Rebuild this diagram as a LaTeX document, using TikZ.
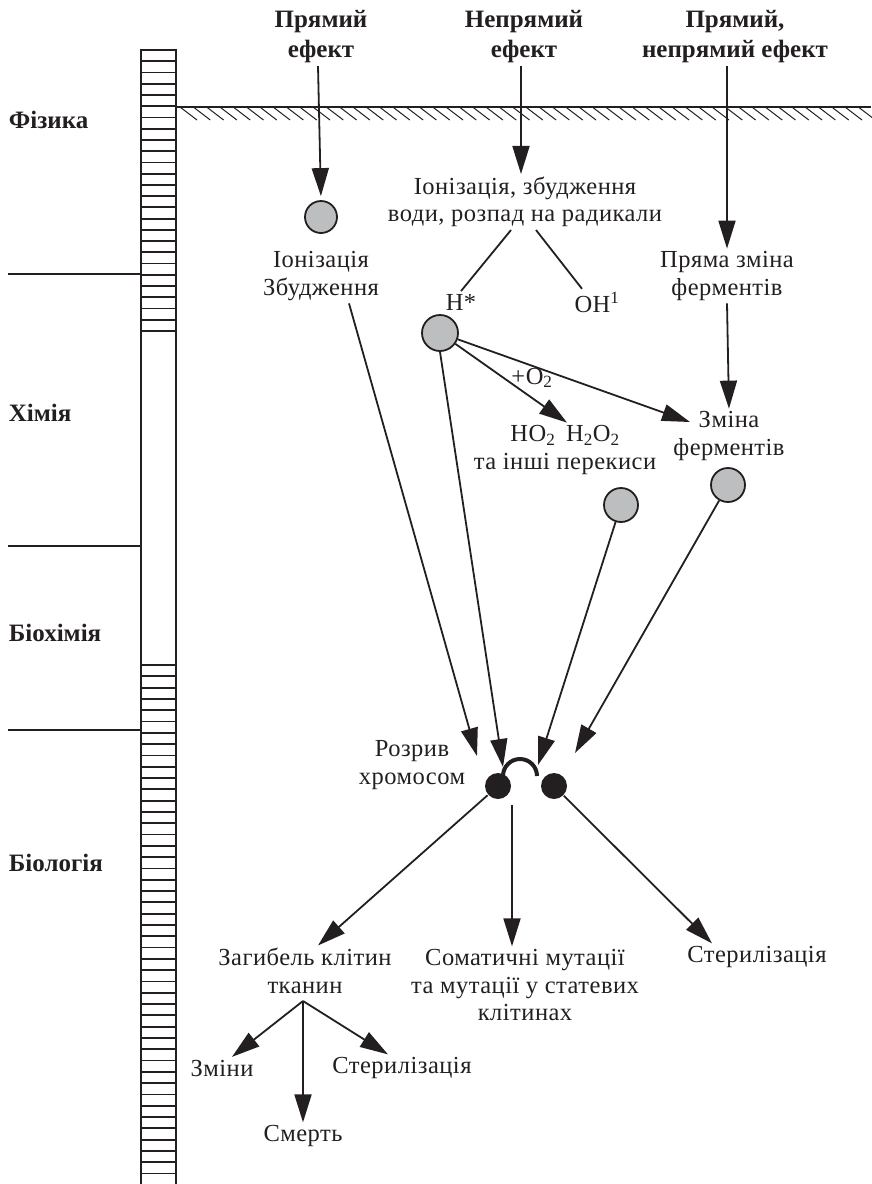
\documentclass[tikz,border=0pt]{standalone}
\usepackage{fontspec}
\setmainfont{Liberation Serif}
\newfontfamily\wide{Liberation Serif}[LetterSpace=2]
\usetikzlibrary{arrows.meta}
\definecolor{ink}{RGB}{35,31,32}
\definecolor{ballgray}{RGB}{188,190,192}

\begin{document}
\begin{tikzpicture}[x=1pt, y=-1pt, ink, line width=1.8pt,
  arr/.style={-{Triangle[length=28pt,width=17pt]}, line width=1.8pt},
  ball/.style={circle, draw, fill=ballgray, line width=1.8pt, minimum size=32pt, inner sep=0pt},
  chrom/.style={circle, fill=ink, minimum size=26pt, inner sep=0pt},
  lbl/.style={align=center, font=\wide\fontsize{24.5}{27.5}\selectfont, inner sep=2pt},
  hdr/.style={align=center, font=\bfseries\fontsize{25}{30}\selectfont, inner sep=2pt},
  side/.style={anchor=base west, font=\bfseries\fontsize{25}{30}\selectfont, inner sep=0pt}]

\useasboundingbox (0,0) rectangle (871,1184);

% scale bar
\draw (141,50) rectangle (176,1195);
\foreach \y in {50,61.24,...,332} \draw (141,\y) -- (176,\y);
\foreach \y in {665,676.3,...,1184} \draw (141,\y) -- (176,\y);
\draw (8,274) -- (141,274);
\draw (8,546) -- (141,546);
\draw (8,730) -- (141,730);

\node[side] (fiz) at (8,128) {Фізика};
\node[side] (khim) at (8,421) {Хімія};
\node[side] (biokh) at (8,641) {Біохімія};
\node[side] (biol) at (8,871) {Біологія};

% surface
\draw (176,107) -- (871,107);
\foreach \x in {180,193.3,...,860} \draw[line width=1pt] (\x,107) -- ++(17,13);

% headers
\node[hdr] (hdrA) at (321,37) {Прямий\\ефект};
\node[hdr] (hdrB) at (524,37) {Непрямий\\ефект};
\node[hdr] (hdrC) at (735,37) {Прямий,\\непрямий ефект};

% physics and chemistry
\node[ball] (ionA) at (321,217) {};
\node[lbl] (ionAtxt) at (321,276) {Іонізація\\Збудження};
\node[lbl] (ionB) at (525,202) {Іонізація, збудження\\води, розпад на радикали};
\node[lbl] (hstar) at (461,302) {H*};
\node[lbl] (oh) at (597,302) {OH\textsuperscript{1}};
\node[lbl] (enzA) at (727,276) {Пряма зміна\\ферментів};
\node[ball, minimum size=36pt] (circH) at (440,333) {};
\node[lbl] (enzB) at (729,436) {Зміна\\ферментів};
\node[lbl] (perox) at (565,450) {HO\textsubscript{2}\, H\textsubscript{2}O\textsubscript{2}\\та інші перекиси};
\node[lbl] (plusO) at (532,378) {+O\textsubscript{2}};
\node[ball, minimum size=34pt] (circP) at (621,505) {};
\node[ball, minimum size=34pt] (circE) at (728,485) {};

\draw[arr, shorten >=4pt] ([xshift=-3pt]hdrA.south) -- (ionA.north);
\draw[arr] ([xshift=-3pt]hdrB.south) -- ([xshift=-4pt]ionB.north);
\draw[arr] ([xshift=-8pt]hdrC.south) -- (enzA.north);
\draw ([xshift=-14pt]ionB.south) -- (hstar.north);
\draw ([xshift=11pt]ionB.south) -- ([xshift=-15pt]oh.north);
\draw[arr] (enzA.south) -- ([xshift=0pt]enzB.north);
\draw[arr] (circH) -- ([xshift=2pt]perox.north);
\coordinate (hitE) at (690,422);
\draw[arr] (circH) -- (hitE);

% chromosome break
\node[chrom] (dot1) at (498,786) {};
\node[chrom] (dot2) at (554,786) {};
\draw[line width=4pt] (503,776) arc (180:360:17);
\node[lbl] (rozryv) at (412,765) {Розрив\\хромосом};

\coordinate (hitA) at (477,756);
\coordinate (hitB) at (503,767);
\coordinate (hitC) at (538,765);
\coordinate (hitD) at (575,753);
\draw[arr] ([xshift=28pt]ionAtxt.south) -- (hitA);
\draw[arr] (circH.south) -- (hitB);
\draw[arr] (circP) -- (hitC);
\draw[arr] (circE) -- (hitD);

% biology
\node[lbl] (death) at (305,971) {Загибель клітин\\тканин};
\node[lbl] (soma) at (525,985) {Соматичні мутації\\та мутації у статевих\\клітинах};
\node[lbl] (steril) at (757,957) {Стерилізація};
\coordinate (gap) at (512,805);
\draw[arr] (dot1) -- ([xshift=13pt]death.north);
\draw[arr] (gap) -- (gap |- soma.north);
\draw[arr] (dot2) -- ([xshift=-45pt]steril.north);

\coordinate (fork) at (303,1001);
\node[lbl] (zminy) at (222,1068) {Зміни};
\node[lbl] (steril2) at (402,1068) {Стерилізація};
\node[lbl] (smert) at (303,1136) {Смерть};
\draw[arr] (fork) -- ([xshift=10pt]zminy.north);
\draw[arr] (fork) -- (smert.north);
\draw[arr] (fork) -- ([xshift=-14pt]steril2.north);

\end{tikzpicture}
\end{document}
